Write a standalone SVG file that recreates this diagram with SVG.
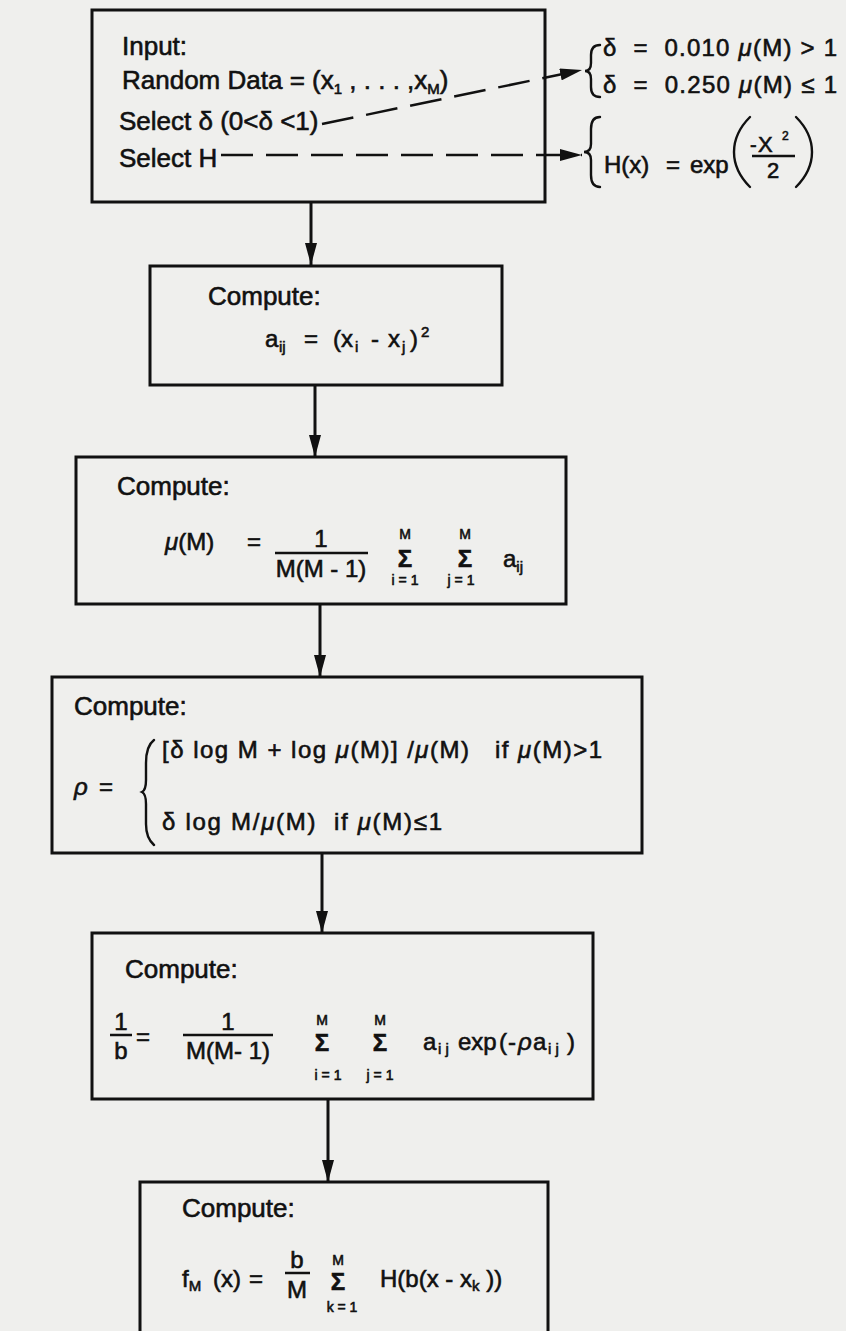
<svg xmlns="http://www.w3.org/2000/svg" width="846" height="1331" viewBox="0 0 846 1331">
  <style>
    .box { fill: none; stroke: #111; stroke-width: 3; }
    .wire { fill: none; stroke: #111; stroke-width: 3; }
    .dash { fill: none; stroke: #111; stroke-width: 2.5; stroke-dasharray: 32 13; }
    .bar { stroke: #111; stroke-width: 2.5; }
    .brace { fill: none; stroke: #111; stroke-width: 2.4; stroke-linecap: round; }
    text { font-family: "Liberation Sans", Arial, sans-serif; fill: #111; stroke: #111; stroke-width: 0.6; }
    .t { font-size: 26px; }
    .m { font-size: 24px; }
    .s { font-size: 15px; }
    .l { font-size: 14px; }
    .g { font-style: italic; }
    .sig { font-size: 24px; font-weight: bold; }
  </style>
  <defs>
    <marker id="head" markerUnits="userSpaceOnUse" markerWidth="22" markerHeight="12" refX="22" refY="6" orient="auto">
      <path d="M0,0 L22,6 L0,12 z" fill="#111"/>
    </marker>
  </defs>

  <rect width="846" height="1331" fill="#efefed"/>

  <!-- connectors -->
  <g id="connectors">
    <line class="wire" x1="311" y1="202" x2="311" y2="265" marker-end="url(#head)"/>
    <line class="wire" x1="315" y1="385" x2="315" y2="457" marker-end="url(#head)"/>
    <line class="wire" x1="320" y1="604" x2="320" y2="677" marker-end="url(#head)"/>
    <line class="wire" x1="322" y1="853" x2="322" y2="933" marker-end="url(#head)"/>
    <line class="wire" x1="328" y1="1099" x2="328" y2="1182" marker-end="url(#head)"/>
    <line class="dash" x1="322" y1="124" x2="582" y2="70" marker-end="url(#head)"/>
    <line class="dash" x1="221" y1="155" x2="582" y2="155" marker-end="url(#head)"/>
  </g>

  <!-- input block -->
  <g id="input">
    <rect class="box" x="92" y="10" width="453" height="192"/>
    <text class="t" x="122" y="55">Input:</text>
    <text class="t" y="89"><tspan x="122">Random Data = (x</tspan><tspan class="s" dy="5">1</tspan><tspan dy="-5" xml:space="preserve"> , . . . ,x</tspan><tspan class="s" dy="5">M</tspan><tspan dy="-5">)</tspan></text>
    <text class="t" x="119" y="130">Select δ (0&lt;δ &lt;1)</text>
    <text class="t" x="119" y="167">Select H</text>
  </g>

  <!-- delta choice -->
  <g id="delta-choice">
    <path class="brace" d="M600,45 Q591,45 591,55 L591,63 Q591,71 585,71 Q591,71 591,79 L591,87 Q591,97 600,97"/>
    <text class="m" x="603" y="56" textLength="234" lengthAdjust="spacing" xml:space="preserve">δ  =  0.010 <tspan class="g">μ</tspan>(M) &gt; 1</text>
    <text class="m" x="603" y="93" textLength="234" lengthAdjust="spacing" xml:space="preserve">δ  =  0.250 <tspan class="g">μ</tspan>(M) ≤ 1</text>
  </g>

  <!-- kernel choice -->
  <g id="kernel-choice">
    <path class="brace" d="M600,117 Q591,117 591,129 L591,144 Q591,152 584,152 Q591,152 591,160 L591,175 Q591,187 600,187"/>
    <text class="m" x="604" y="173">H(x)</text>
    <text class="m" x="666" y="173">=</text>
    <text class="m" x="690" y="173">exp</text>
    <path class="brace" d="M750,117 Q734,133 734,152 Q734,171 750,187"/>
    <path class="brace" d="M796,117 Q812,133 812,152 Q812,171 796,187"/>
    <text font-size="20" x="750" y="152">-</text>
    <text font-size="22" x="758" y="152">X</text>
    <text font-size="12" x="782" y="140">2</text>
    <line class="bar" x1="752" y1="156" x2="795" y2="156"/>
    <text font-size="22" x="767" y="178">2</text>
  </g>

  <!-- distance matrix -->
  <g id="distances">
    <rect class="box" x="150" y="266" width="352" height="119"/>
    <text class="t" x="208" y="305">Compute:</text>
    <text class="m" y="347"><tspan x="265">a</tspan><tspan class="s" x="279" dy="5">ij</tspan><tspan x="304" dy="-5">=</tspan><tspan x="333">(x</tspan><tspan class="s" x="355" dy="5">i</tspan><tspan x="371" dy="-5">-</tspan><tspan x="388">x</tspan><tspan class="s" x="402" dy="5">j</tspan><tspan x="410" dy="-5">)</tspan><tspan class="s" x="421" dy="-10">2</tspan></text>
  </g>

  <!-- mean distance -->
  <g id="mean">
    <rect class="box" x="76" y="457" width="490" height="147"/>
    <text class="t" x="117" y="495">Compute:</text>
    <text class="m" x="165" y="550"><tspan class="g">μ</tspan>(M)</text>
    <text class="m" x="247" y="550">=</text>
    <text class="m" x="321" y="547" text-anchor="middle">1</text>
    <line class="bar" x1="275" y1="553" x2="368" y2="553"/>
    <text class="m" x="321" y="577" text-anchor="middle">M(M - 1)</text>
    <text class="l" x="405" y="539" text-anchor="middle">M</text>
    <text class="sig" x="405" y="567" text-anchor="middle">Σ</text>
    <text class="l" x="405" y="585" text-anchor="middle">i = 1</text>
    <text class="l" x="465" y="539" text-anchor="middle">M</text>
    <text class="sig" x="465" y="567" text-anchor="middle">Σ</text>
    <text class="l" x="461" y="585" text-anchor="middle">j = 1</text>
    <text class="m" y="567"><tspan x="503">a</tspan><tspan class="s" dy="5">ij</tspan></text>
  </g>

  <!-- smoothing parameter -->
  <g id="rho">
    <rect class="box" x="52" y="677" width="590" height="176"/>
    <text class="t" x="74" y="715">Compute:</text>
    <text class="m" x="74" y="795"><tspan class="g">ρ</tspan></text>
    <text class="m" x="99" y="795">=</text>
    <path class="brace" d="M154,740 Q146,746 146,763 L146,780 Q146,790 142,792 Q146,794 146,804 L146,824 Q146,838 154,845"/>
    <text class="m" x="162" y="758" textLength="440" lengthAdjust="spacing" xml:space="preserve">[δ log M + log <tspan class="g">μ</tspan>(M)] /<tspan class="g">μ</tspan>(M)   if <tspan class="g">μ</tspan>(M)&gt;1</text>
    <text class="m" x="162" y="830" textLength="280" lengthAdjust="spacing" xml:space="preserve">δ log M/<tspan class="g">μ</tspan>(M)  if <tspan class="g">μ</tspan>(M)≤1</text>
  </g>

  <!-- bandwidth -->
  <g id="bandwidth">
    <rect class="box" x="92" y="933" width="501" height="166"/>
    <text class="t" x="125" y="978">Compute:</text>
    <text class="m" x="121" y="1030" text-anchor="middle">1</text>
    <line class="bar" x1="110" y1="1035" x2="132" y2="1035"/>
    <text class="m" x="121" y="1059" text-anchor="middle">b</text>
    <text class="m" x="136" y="1045">=</text>
    <text class="m" x="228" y="1030" text-anchor="middle">1</text>
    <line class="bar" x1="183" y1="1035" x2="273" y2="1035"/>
    <text class="m" x="228" y="1059" text-anchor="middle">M(M- 1)</text>
    <text class="l" x="322" y="1025" text-anchor="middle">M</text>
    <text class="sig" x="322" y="1051" text-anchor="middle">Σ</text>
    <text class="l" x="328" y="1080" text-anchor="middle">i = 1</text>
    <text class="l" x="380" y="1025" text-anchor="middle">M</text>
    <text class="sig" x="380" y="1051" text-anchor="middle">Σ</text>
    <text class="l" x="380" y="1080" text-anchor="middle">j = 1</text>
    <text class="m" y="1050"><tspan x="423">a</tspan><tspan class="s" x="438" dy="4" xml:space="preserve">i j</tspan><tspan x="458" dy="-4">exp</tspan><tspan x="499">(</tspan><tspan x="508">-</tspan><tspan class="g" x="518">ρ</tspan><tspan x="533">a</tspan><tspan class="s" x="548" dy="4" xml:space="preserve">i j</tspan><tspan x="567" dy="-4">)</tspan></text>
  </g>

  <!-- density estimate -->
  <g id="estimate">
    <rect class="box" x="140" y="1182" width="408" height="155"/>
    <text class="t" x="182" y="1217">Compute:</text>
    <text class="m" y="1287"><tspan x="182">f</tspan><tspan class="s" dy="4">M</tspan><tspan x="213" dy="-4">(x)</tspan><tspan x="249">=</tspan></text>
    <text class="m" x="297" y="1268" text-anchor="middle">b</text>
    <line class="bar" x1="285" y1="1273" x2="310" y2="1273"/>
    <text class="m" x="297" y="1298" text-anchor="middle">M</text>
    <text class="l" x="338" y="1265" text-anchor="middle">M</text>
    <text class="sig" x="338" y="1290" text-anchor="middle">Σ</text>
    <text class="l" x="342" y="1312" text-anchor="middle">k = 1</text>
    <text class="m" y="1287"><tspan x="380">H(b(x - x</tspan><tspan class="s" dy="4">k</tspan><tspan dy="-4"> ))</tspan></text>
  </g>
</svg>
